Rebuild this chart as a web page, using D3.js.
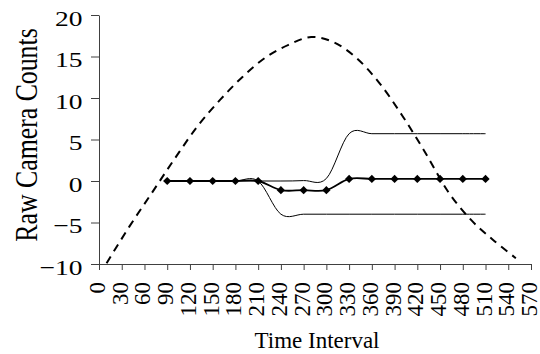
<!DOCTYPE html>
<html>
<head>
<meta charset="utf-8">
<script src="https://cdn.jsdelivr.net/npm/d3@7/dist/d3.min.js"></script>
<style>
  html, body { margin: 0; padding: 0; background: #fff; }
  svg { display: block; }
  text { font-family: "Liberation Serif", "Times New Roman", serif; fill: #000; }
</style>
</head>
<body>
<svg id="chart" width="540" height="354"></svg>
<script>
// Sample times shared by the three measured series
const timePoints = [90, 120, 150, 180, 210, 240, 270, 300, 330, 360, 390, 420, 450, 480, 510];
// Mean raw counts (marked with diamonds)
const meanCounts = [0, 0, 0, 0, 0, -1.1, -1.1, -1.1, 0.25, 0.25, 0.25, 0.25, 0.25, 0.25, 0.25];
// Upper and lower envelopes
const upperCounts = [0, 0, 0, 0, 0, 0, 0.05, 0.3, 5.7, 5.7, 5.7, 5.7, 5.7, 5.7, 5.7];
const lowerCounts = [0, 0, 0, 0, 0, -4.0, -4.0, -4.0, -4.0, -4.0, -4.0, -4.0, -4.0, -4.0, -4.0];
// Reference wave (dashed)
const waveTimes = [10, 40, 70, 100, 130, 160, 190, 220, 250, 280, 310, 340, 370, 400, 430, 460, 490, 520, 550];
const waveCounts = [-9.9, -5.5, -1.4, 2.7, 6.6, 9.8, 12.6, 14.9, 16.4, 17.35, 16.7, 14.8, 11.8, 7.9, 3.5, -1.2, -4.6, -7.1, -9.3];
// Axis ticks
const xTicks = d3.range(0, 571, 30);
const yTicks = [-10, -5, 0, 5, 10, 15, 20];

const svg = d3.select("#chart");
const plotLeft = 99, plotRight = 531, plotTop = 15, plotBottom = 264;

const x = d3.scaleLinear().domain([0, 570]).range([plotLeft, plotRight]);
const y = d3.scaleLinear().domain([-10, 20]).range([plotBottom, plotTop]);

svg.append("defs").append("clipPath").attr("id", "plot-clip")
  .append("rect").attr("x", plotLeft).attr("y", plotTop)
  .attr("width", plotRight - plotLeft).attr("height", plotBottom - plotTop);

const axisColor = "#404040";
const serif = '"Liberation Serif", "Times New Roman", serif';

// Y axis (labels drawn slightly wide, right-aligned next to the ticks)
const yAxis = svg.append("g")
  .attr("transform", `translate(${plotLeft},0)`)
  .call(d3.axisLeft(y).tickValues(yTicks).tickSize(8).tickPadding(9).tickSizeOuter(0));
yAxis.select(".domain").attr("stroke", axisColor);
yAxis.selectAll(".tick line").attr("stroke", axisColor);
yAxis.selectAll(".tick text")
  .style("font-family", serif)
  .style("font-size", "22px").attr("fill", "#000")
  .attr("x", 0).attr("dy", 10)
  .attr("transform", "translate(-16.5,0) scale(1.25,1)");

// X axis with vertical labels
const xAxis = svg.append("g")
  .attr("transform", `translate(0,${plotBottom})`)
  .call(d3.axisBottom(x).tickValues(xTicks).tickSize(6).tickSizeOuter(0));
xAxis.select(".domain").attr("stroke", axisColor);
xAxis.selectAll(".tick line").attr("stroke", axisColor);
xAxis.selectAll(".tick text")
  .style("font-family", serif)
  .style("font-size", "23px").attr("fill", "#000")
  .attr("text-anchor", "end")
  .attr("dy", null).attr("y", null)
  .attr("transform", "translate(5.5,18) rotate(-90)");

const plot = svg.append("g").attr("clip-path", "url(#plot-clip)");

const line = (xs) => d3.line()
  .x((d, i) => x(xs[i]))
  .y(d => y(d))
  .curve(d3.curveCardinal.tension(0));

// Reference wave
plot.append("path")
  .datum(waveCounts)
  .attr("d", line(waveTimes))
  .attr("fill", "none").attr("stroke", "#000")
  .attr("stroke-width", 2).attr("stroke-dasharray", "8,6");

// Envelopes
[upperCounts, lowerCounts].forEach(series => {
  plot.append("path")
    .datum(series)
    .attr("d", line(timePoints))
    .attr("fill", "none").attr("stroke", "#000")
    .attr("stroke-width", 1);
});

// Mean line with diamond markers
plot.append("path")
  .datum(meanCounts)
  .attr("d", line(timePoints))
  .attr("fill", "none").attr("stroke", "#000")
  .attr("stroke-width", 1.8);

const diamond = d3.symbol().type(d3.symbolSquare).size(34);
plot.selectAll("path.marker")
  .data(meanCounts)
  .join("path")
  .attr("class", "marker")
  .attr("d", diamond)
  .attr("transform", (d, i) => `translate(${x(timePoints[i])},${y(d)}) rotate(45)`)
  .attr("fill", "#000");

// Axis titles
svg.append("text")
  .attr("x", (plotLeft + plotRight) / 2 + 2).attr("y", 348)
  .attr("text-anchor", "middle")
  .style("font-size", "23px")
  .text("Time Interval");

svg.append("text")
  .attr("transform", "translate(36.5,135) scale(1.25,1) rotate(-90)")
  .attr("text-anchor", "middle")
  .style("font-size", "25.8px")
  .text("Raw Camera Counts");
</script>
</body>
</html>
